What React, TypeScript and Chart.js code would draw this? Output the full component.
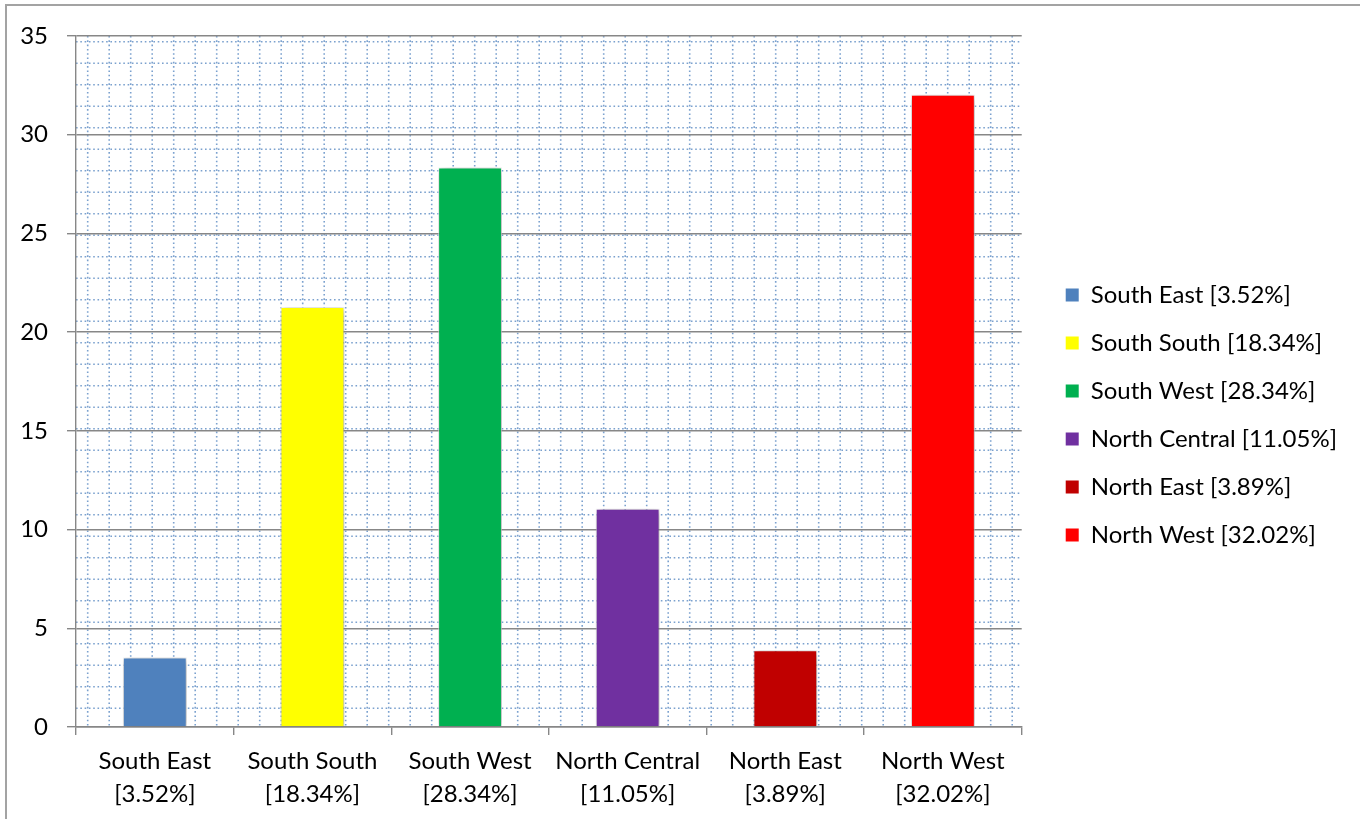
import React, { useEffect, useRef } from 'react';
import { Chart, registerables } from 'chart.js';

Chart.register(...registerables);

const categories = ['South East', 'South South', 'South West', 'North Central', 'North East', 'North West'];
const shareLabels = ['[3.52%]', '[18.34%]', '[28.34%]', '[11.05%]', '[3.89%]', '[32.02%]'];
const values = [3.52, 21.27, 28.34, 11.05, 3.89, 32.02];
const colors = ['#4F81BD', '#FFFF00', '#00B050', '#7030A0', '#C00000', '#FF0000'];
const yMin = 0;
const yMax = 35;
const yStep = 5;

const FONT = 'Lato';
const FS = 24;
const GRID = '#878787';

const patternPlugin = {
  id: 'patternFill',
  beforeDraw(chart: any) {
    const { ctx, chartArea: a } = chart;
    ctx.save();
    ctx.beginPath();
    ctx.rect(a.left, a.top, a.right - a.left, a.bottom - a.top);
    ctx.clip();
    ctx.strokeStyle = 'rgba(79,129,189,0.75)';
    ctx.lineWidth = 1.6;
    ctx.setLineDash([1.6, 2.7]);
    const step = 21.5;
    for (let x = a.left + 11.7; x < a.right; x += step) {
      ctx.beginPath();
      ctx.moveTo(x, a.top);
      ctx.lineTo(x, a.bottom);
      ctx.stroke();
    }
    for (let y = a.top + 5.7; y < a.bottom; y += step) {
      ctx.beginPath();
      ctx.moveTo(a.left, y);
      ctx.lineTo(a.right, y);
      ctx.stroke();
    }
    ctx.restore();
  },
};

const shadowPlugin = {
  id: 'barShadow',
  beforeDatasetsDraw(chart: any) {
    const ctx = chart.ctx;
    ctx.save();
    ctx.shadowColor = 'rgba(0,0,0,0.4)';
    ctx.shadowBlur = 8;
    ctx.shadowOffsetX = 1.5;
    ctx.shadowOffsetY = 1.5;
  },
  afterDatasetsDraw(chart: any) {
    chart.ctx.restore();
  },
};

export default function App() {
  const ref = useRef<HTMLCanvasElement | null>(null);

  useEffect(() => {
    let chart: any = null;
    let cancelled = false;
    const build = () => {
      if (cancelled || !ref.current) return;
      Chart.defaults.font.family = FONT;
      Chart.defaults.font.size = FS;
      Chart.defaults.color = '#000';
      chart = new Chart(ref.current, {
        type: 'bar',
        data: {
          labels: categories.map((c, i) => [c, shareLabels[i]]),
          datasets: [
            {
              data: values,
              backgroundColor: colors,
              borderColor: 'rgba(255,255,255,0.7)',
              borderWidth: 1,
              categoryPercentage: 1,
              barPercentage: 0.405,
              yAxisID: 'y',
              xAxisID: 'x',
            },
          ],
        },
        options: {
          animation: false,
          responsive: true,
          maintainAspectRatio: false,
          layout: { padding: { left: 0, top: 11, right: 13, bottom: 0 } },
          plugins: {
            tooltip: { enabled: false },
            legend: {
              position: 'right',
              align: 'center',
              maxWidth: 400,
              onClick: () => {},
              labels: {
                boxWidth: 13,
                boxHeight: 13,
                padding: 48 - FS,
                color: '#000',
                font: { family: FONT, size: FS },
                generateLabels: () =>
                  categories.map((c, i) => ({
                    text: `${c} ${shareLabels[i]}`,
                    fillStyle: colors[i],
                    strokeStyle: colors[i],
                    lineWidth: 0,
                    hidden: false,
                    index: i,
                    datasetIndex: 0,
                  })),
              },
            },
          },
          scales: {
            x: {
              position: 'bottom',
              grid: {
                display: true,
                drawOnChartArea: false,
                drawTicks: true,
                tickLength: 8,
                offset: true,
                color: GRID,
                lineWidth: 1.4,
              },
              border: { display: true, color: GRID, width: 1.4 },
              ticks: {
                color: '#000',
                padding: 10,
                maxRotation: 0,
                autoSkip: false,
                font: { family: FONT, size: FS, lineHeight: 1.375 },
              },
              afterFit: (s: any) => {
                s.height = 92;
              },
            },
            xTop: {
              type: 'category',
              position: 'top',
              display: true,
              grid: { display: false, drawTicks: false },
              border: { display: false },
              ticks: { display: false },
              afterFit: (s: any) => {
                s.height = 25;
              },
            },
            y: {
              min: yMin,
              max: yMax,
              position: 'left',
              grid: {
                color: GRID,
                lineWidth: 1.4,
                tickLength: 9,
                drawTicks: true,
              },
              border: { display: true, color: GRID, width: 1.4 },
              ticks: {
                stepSize: yStep,
                color: '#000',
                padding: 19,
                font: { family: FONT, size: FS },
              },
              afterFit: (s: any) => {
                s.width = 76;
              },
            },
            y2: {
              type: 'linear',
              position: 'right',
              display: true,
              grid: { display: false, drawTicks: false },
              border: { display: false },
              ticks: { display: false },
              afterFit: (s: any) => {
                s.width = 20;
              },
            },
          },
        },
        plugins: [patternPlugin, shadowPlugin],
      } as any);
    };
    const fontsApi: any = (document as any).fonts;
    if (fontsApi && fontsApi.load) {
      Promise.all([fontsApi.load(`${FS}px ${FONT}`)])
        .catch(() => {})
        .then(() => build());
    } else {
      build();
    }
    return () => {
      cancelled = true;
      if (chart) chart.destroy();
    };
  }, []);

  return (
    <div style={{ position: 'fixed', left: 0, top: 0, width: 1360, height: 819, overflow: 'hidden', background: '#fff' }}>
      <div
        style={{
          position: 'absolute',
          left: 5,
          top: 4,
          width: 2000,
          height: 2000,
          borderLeft: '2px solid #a3a3a3',
          borderTop: '2px solid #a3a3a3',
        }}
      />
      <div style={{ position: 'absolute', left: 0, top: 0, width: 1360, height: 819 }}>
        <canvas ref={ref} />
      </div>
    </div>
  );
}
